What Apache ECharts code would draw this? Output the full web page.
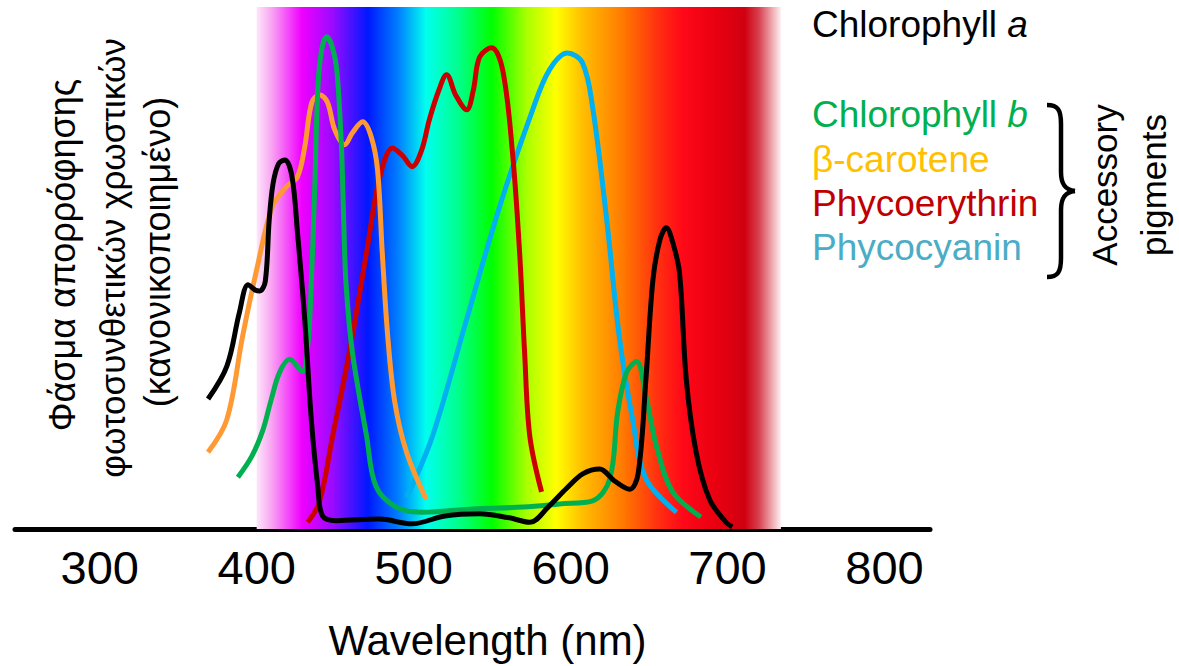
<!DOCTYPE html>
<html>
<head>
<meta charset="utf-8">
<script src="https://cdn.jsdelivr.net/npm/echarts@6/dist/echarts.min.js"></script>
<style>html,body{margin:0;padding:0;background:#fff;}#c{width:1179px;height:666px;}</style>
</head>
<body>
<div id="c"></div>
<script>
// Tick labels (nm)
const wavelengthTicks = [300, 400, 500, 600, 700, 800];
// Visible spectrum band (nm)
const spectrumRange = [400, 734];
// Absorption spectra: [wavelength nm, normalized absorbance]
const chlorophyllA = [[369,24.9],[381,31.2],[389,41.5],[394.5,46.8],[399,45.8],[402,45.6],[405.5,47.5],[408,59.3],[410.5,66.3],[414,70],[418,70.7],[422.5,67.5],[426,56.8],[430.6,40.2],[434.8,21],[438.9,8.2],[442,2.5],[451,1.6],[478,1.9],[499,1.0],[520,2.5],[542,2.9],[560,2.2],[574,1.3],[586,4.3],[597.5,7.8],[608,10.6],[618.5,11.5],[628,9.2],[637.6,7.6],[643,10.5],[648,28.7],[652.5,47.8],[657,55.5],[661,57.7],[665,55],[669.4,49.1],[673.7,28.7],[680,14.7],[688.5,5.7],[699,1.3],[703,0.4]];
const chlorophyllB = [[388,9.9],[397,14],[404,19],[409,24.5],[414.6,30],[421,32.5],[429,30.2],[432.5,35],[434.5,45],[437,65.6],[439,84.7],[441.5,92],[444.6,94.3],[448,92.5],[451,88],[454,73.2],[455.4,59.3],[457,46.5],[461,33.8],[470,17.8],[476,8.2],[489,4.2],[505.8,3.2],[540,3.9],[570,4.2],[593,4.8],[614,5.4],[625,9.6],[630,22.4],[635.7,30],[642,32.1],[648,25.4],[654.7,15.9],[665,7.1],[683,2.3]];
const betaCarotene = [[369,14.7],[381,21],[391,36.9],[400,49.7],[410,61.8],[419,65.6],[426,67.5],[430.6,73.2],[435,81.6],[440,83.2],[445,81.8],[449.7,76.5],[456,73.6],[461,75.9],[467.5,78],[473,75.1],[477,68.8],[480,53],[483.5,36.9],[488,24.3],[495.5,14.7],[508,5.7]];
const phycoerythrin = [[432.5,1.3],[440,5.2],[448.4,17.8],[459,33.8],[470,53],[478,66.9],[486.6,73],[493,71.5],[499,69.4],[505,72.5],[510,78.4],[516,84],[521,87],[527,83],[533.8,80.3],[538,84],[542,90.4],[549.7,92.2],[556.7,88],[563,72],[567.5,53],[570.7,33.8],[574,17.8],[581.5,7.1]];
const phycocyanin = [[495.5,6.0],[512,17.8],[533.8,40.2],[554.8,61.8],[575.8,80.3],[586.6,88],[598,91.2],[607.6,89.3],[614,80.9],[623,59.3],[631,36.9],[639.5,21],[648,9.6],[667.5,3.2]];

const legendItems = [
  {label: 'Chlorophyll ', italic: 'b', color: '#00b050', y: 118},
  {label: 'β-carotene', italic: '', color: '#ffc000', y: 163},
  {label: 'Phycoerythrin', italic: '', color: '#c00000', y: 207},
  {label: 'Phycocyanin', italic: '', color: '#4bacc6', y: 251}
];

const FONT = '"Liberation Sans", Arial, sans-serif';
const LEG = 37;
const chart = echarts.init(document.getElementById('c'), null, {renderer: 'svg'});

const spectrumGradient = new echarts.graphic.LinearGradient(0, 0, 1, 0, [
  {offset: 0, color: '#fde6fb'},
  {offset: 0.027, color: '#f9a8f2'},
  {offset: 0.086, color: '#f000ff'},
  {offset: 0.145, color: '#9a0aff'},
  {offset: 0.212, color: '#0018ff'},
  {offset: 0.271, color: '#0080ff'},
  {offset: 0.323, color: '#00ffee'},
  {offset: 0.383, color: '#00ff90'},
  {offset: 0.449, color: '#00ff00'},
  {offset: 0.515, color: '#a8ff00'},
  {offset: 0.571, color: '#ffff00'},
  {offset: 0.620, color: '#ffc000'},
  {offset: 0.700, color: '#ff7800'},
  {offset: 0.765, color: '#ff3010'},
  {offset: 0.813, color: '#ff0818'},
  {offset: 0.878, color: '#e80010'},
  {offset: 0.931, color: '#d00010'},
  {offset: 0.958, color: '#d84050'},
  {offset: 1, color: '#fdf0f0'}
]);

function lineSeries(name, data, color) {
  return {
    name, type: 'line', data, smooth: 0.35, symbol: 'none',
    lineStyle: {color, width: 5, cap: 'butt'}, z: 3
  };
}

const braceStyle = {fill: 'none', stroke: '#000', lineWidth: 4.5};
const graphics = [
  {type: 'text', left: 812, top: 6, style: {
    rich: {n: {fontSize: LEG, fontFamily: FONT, fill: '#000'}, i: {fontSize: LEG, fontFamily: FONT, fontStyle: 'italic', fill: '#000'}},
    text: '{n|Chlorophyll }{i|a}'
  }},
  {type: 'bezierCurve', shape: {x1: 1047, y1: 105, cpx1: 1058, cpy1: 105, cpx2: 1061, cpy2: 110, x2: 1061, y2: 124}, style: braceStyle},
  {type: 'line', shape: {x1: 1061, y1: 124, x2: 1061, y2: 172}, style: braceStyle},
  {type: 'bezierCurve', shape: {x1: 1061, y1: 172, cpx1: 1061, cpy1: 184, cpx2: 1065, cpy2: 190, x2: 1075, y2: 191}, style: braceStyle},
  {type: 'bezierCurve', shape: {x1: 1075, y1: 191, cpx1: 1065, cpy1: 192, cpx2: 1061, cpy2: 198, x2: 1061, y2: 210}, style: braceStyle},
  {type: 'line', shape: {x1: 1061, y1: 210, x2: 1061, y2: 258}, style: braceStyle},
  {type: 'bezierCurve', shape: {x1: 1061, y1: 258, cpx1: 1061, cpy1: 272, cpx2: 1058, cpy2: 277, x2: 1047, y2: 277}, style: braceStyle},
  {type: 'text', x: 1104, y: 185, rotation: Math.PI / 2, style: {text: 'Accessory', fontSize: 35, fontFamily: FONT, fill: '#000', align: 'center', verticalAlign: 'middle'}},
  {type: 'text', x: 1153, y: 185, rotation: Math.PI / 2, style: {text: 'pigments', fontSize: 35, fontFamily: FONT, fill: '#000', align: 'center', verticalAlign: 'middle'}},
  {type: 'text', x: 62, y: 255, rotation: Math.PI / 2, style: {text: 'Φάσμα απορρόφησης', fontSize: 36, fontFamily: FONT, fill: '#000', align: 'center', verticalAlign: 'middle'}},
  {type: 'text', x: 112, y: 258, rotation: Math.PI / 2, style: {text: 'φωτοσυνθετικών χρωστικών', fontSize: 35, fontFamily: FONT, fill: '#000', align: 'center', verticalAlign: 'middle'}},
  {type: 'text', x: 157, y: 252, rotation: Math.PI / 2, style: {text: '(κανονικοποιημένο)', fontSize: 36, fontFamily: FONT, fill: '#000', align: 'center', verticalAlign: 'middle'}}
];
legendItems.forEach(it => {
  graphics.push({type: 'text', left: 812, top: it.y - 22, style: {
    rich: {n: {fontSize: LEG, fontFamily: FONT, fill: it.color}, i: {fontSize: LEG, fontFamily: FONT, fontStyle: 'italic', fill: it.color}},
    text: '{n|' + it.label + '}' + (it.italic ? '{i|' + it.italic + '}' : '')
  }});
});

chart.setOption({
  animation: false,
  backgroundColor: '#fff',
  grid: {left: 15, right: 249, top: 7, bottom: 136},
  xAxis: {
    type: 'value', min: 246, max: 829,
    name: 'Wavelength (nm)', nameLocation: 'middle', nameGap: 90,
    nameTextStyle: {fontSize: 42, fontFamily: FONT, color: '#000', padding: [0, 0, 0, 30]},
    axisLine: {show: true, lineStyle: {color: '#000', width: 5}},
    axisTick: {show: false},
    splitLine: {show: false},
    axisLabel: {customValues: wavelengthTicks, fontSize: 47, fontFamily: FONT, color: '#000', margin: 15, showMinLabel: true, showMaxLabel: true}
  },
  yAxis: {
    type: 'value', min: 0, max: 100,
    axisLine: {show: false}, axisTick: {show: false}, axisLabel: {show: false}, splitLine: {show: false}
  },
  series: [
    {
      name: 'spectrum', type: 'line', data: [], silent: true, z: 1,
      markArea: {silent: true, itemStyle: {color: spectrumGradient}, data: [[{xAxis: spectrumRange[0], yAxis: 0}, {xAxis: spectrumRange[1], yAxis: 100}]]}
    },
    lineSeries('Phycocyanin', phycocyanin, '#00b0f0'),
    lineSeries('Phycoerythrin', phycoerythrin, '#cc0000'),
    lineSeries('β-carotene', betaCarotene, '#ff9933'),
    lineSeries('Chlorophyll b', chlorophyllB, '#00b050'),
    lineSeries('Chlorophyll a', chlorophyllA, '#000000')
  ],
  graphic: graphics
});
</script>
</body>
</html>
